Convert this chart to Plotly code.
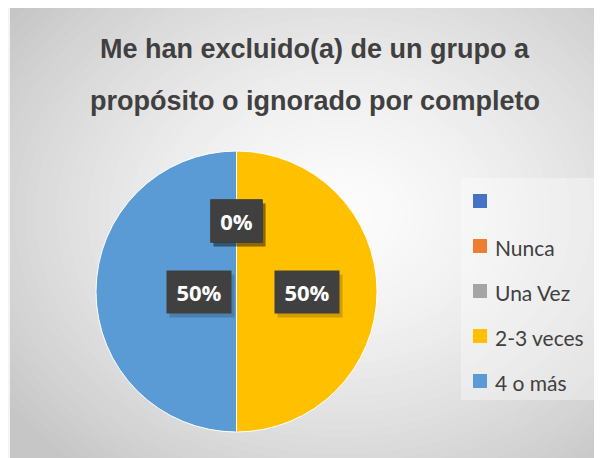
import math
import plotly.graph_objects as go

# datos
categorias = ["", "Nunca", "Una Vez", "2-3 veces", "4 o más"]
respuestas = [0, 0, 0, 1, 1]
colores = ["#4472C4", "#ED7D31", "#A5A5A5", "#FFC000", "#5B9BD5"]
titulo = ["Me han excluido(a) de un grupo a", "propósito o ignorado por completo"]

# the page body has an 8px margin, so the figure is a bit smaller than the window
OFF = 8
W, H = 602 - OFF, 458 - OFF


def px(x):
    return (x - OFF) / W


def py(y):
    return 1 - (y - OFF) / H


# pie geometry (window pixels)
cx, cy, r = 236.5, 291.5, 140.5

fig = go.Figure()

fig.add_trace(go.Pie(
    labels=categorias,
    values=respuestas,
    marker=dict(colors=colores, line=dict(color="white", width=1)),
    sort=False,
    direction="clockwise",
    rotation=0,
    textinfo="none",
    showlegend=False,
    domain=dict(x=[px(cx - r), px(cx + r)], y=[py(cy + r), py(cy - r)]),
    hovertemplate="%{label}: %{percent}<extra></extra>",
))

shapes = []

# fondo con degradado radial
shapes.append(dict(type="rect", xref="paper", yref="paper", layer="below",
                   x0=0, x1=1, y0=0, y1=1, fillcolor="rgb(198,198,198)", line=dict(width=0)))
gx, gy = 340, 215
rx, ry = 420, 330
n = 40
for i in range(n, -1, -1):
    t = i / n
    g = int(round(252 - (252 - 198) * t ** 1.5))
    col = "rgb(%d,%d,%d)" % (g, g, g)
    shapes.append(dict(type="circle", xref="paper", yref="paper", layer="below",
                       x0=px(gx - rx * t), x1=px(gx + rx * t),
                       y0=py(gy + ry * t), y1=py(gy - ry * t),
                       fillcolor=col, line=dict(width=0)))
# borde izquierdo claro
shapes.append(dict(type="rect", xref="paper", yref="paper", layer="below",
                   x0=0, x1=px(10), y0=0, y1=1, fillcolor="#f4f4f4", line=dict(width=0)))
# caja de leyenda
shapes.append(dict(type="rect", xref="paper", yref="paper", layer="below",
                   x0=px(461), x1=1, y0=py(400), y1=py(178),
                   fillcolor="rgba(255,255,255,0.35)", line=dict(width=0)))

annotations = []

# titulo
for k, linea in enumerate(titulo):
    annotations.append(dict(text="<b>%s</b>" % linea, x=px(315), y=py(49 + 52 * k),
                            xref="paper", yref="paper", xanchor="center", yanchor="middle",
                            showarrow=False,
                            font=dict(family="Liberation Sans, Arial", size=27, color="#404040")))

# etiquetas de datos
total = sum(respuestas)
acum = 0
for v in respuestas:
    mid = (acum + v / 2) / total * 2 * math.pi
    acum += v
    lx = cx + 0.5 * r * math.sin(mid)
    ly = cy - 0.5 * r * math.cos(mid)
    txt = "%d%%" % round(100 * v / total)
    w = 25 + 13 * len(txt)
    h = 42
    annotations.append(dict(text="", x=px(lx), y=py(ly), xref="paper", yref="paper",
                            showarrow=False, width=w, height=h, borderpad=0,
                            xshift=3, yshift=-4, bgcolor="rgba(0,0,0,0.18)"))
    annotations.append(dict(text="<b>%s</b>" % txt, x=px(lx), y=py(ly), xref="paper", yref="paper",
                            showarrow=False, width=w, height=h, borderpad=0,
                            bgcolor="#404040",
                            font=dict(family="Open Sans", size=22, color="white")))

# leyenda
for k, (cat, col) in enumerate(zip(categorias, colores)):
    yy = 201 + 45 * k
    shapes.append(dict(type="rect", xref="paper", yref="paper",
                       x0=px(473), x1=px(487), y0=py(yy + 7), y1=py(yy - 7),
                       fillcolor=col, line=dict(width=0)))
    annotations.append(dict(text=cat, x=px(493), y=py(yy + 1), xref="paper", yref="paper",
                            xanchor="left", yanchor="middle", showarrow=False,
                            font=dict(family="Lato", size=21, color="#404040")))

fig.update_layout(
    width=W, height=H,
    margin=dict(l=0, r=0, t=0, b=0),
    paper_bgcolor="white",
    plot_bgcolor="white",
    shapes=shapes,
    annotations=annotations,
)

fig.write_html("out.html")
